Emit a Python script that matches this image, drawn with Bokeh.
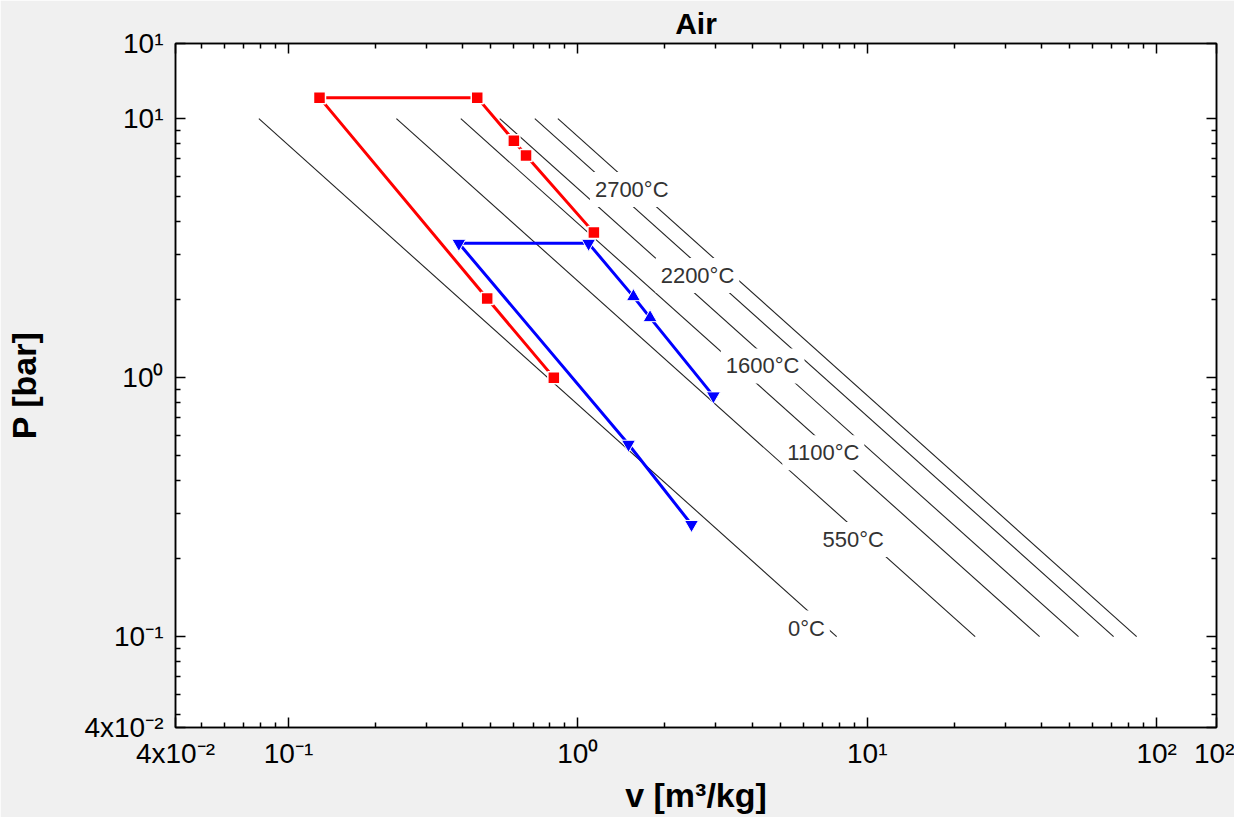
from bokeh.plotting import figure
from bokeh.models import (Range1d, FixedTicker, LogAxis, Label, ColumnDataSource,
                          CustomJSTickFormatter, CustomLabelingPolicy)
from bokeh.embed import file_html
from bokeh.resources import INLINE

# ---------------- data ----------------
# Isotherms of air: specific volume at the 10 bar end and at the 0.1 bar end
iso_names = ["0°C", "550°C", "1100°C", "1600°C", "2200°C", "2700°C"]
iso_p_top = [10, 10, 10, 10, 10, 10]
iso_v_top = [0.079, 0.236, 0.394, 0.537, 0.710, 0.853]
iso_p_bot = [0.1, 0.1, 0.1, 0.1, 0.1, 0.1]
iso_v_bot = [7.84, 23.6, 39.4, 53.7, 71.0, 85.3]
# where each isotherm carries its label
iso_label_v = [6.16, 8.95, 7.05, 4.35, 2.59, 1.535]
iso_label_p = [0.108, 0.237, 0.513, 1.11, 2.48, 5.32]

# red cycle (squares)
red_v = [0.826, 0.486, 0.128, 0.449, 0.601, 0.662, 1.136]
red_p = [1.00, 2.02, 12.05, 12.05, 8.22, 7.20, 3.63]

# blue cycle (triangles)
blue_v = [2.47, 1.496, 0.388, 1.089, 1.556, 1.776, 2.94]
blue_p = [0.271, 0.553, 3.30, 3.30, 2.055, 1.705, 0.85]
blue_markers = ["inverted_triangle", "inverted_triangle", "inverted_triangle",
                "inverted_triangle", "triangle", "triangle", "inverted_triangle"]

# axes
x_ticks = [0.0407, 0.1, 1, 10, 100, 161]
x_tick_labels = ["4x10⁻²", "10⁻¹", "10⁰", "10¹", "10²", "10²"]
x_minor = [0.05, 0.06, 0.07, 0.08, 0.09,
           0.2, 0.3, 0.4, 0.5, 0.6, 0.7, 0.8, 0.9,
           2, 3, 4, 5, 6, 7, 8, 9,
           20, 30, 40, 50, 60, 70, 80, 90]
y_ticks = [0.0446, 0.1, 1, 10, 19.5]
y_tick_labels = ["4x10⁻²", "10⁻¹", "10⁰", "10¹", "10¹"]
y_minor = [0.05, 0.06, 0.07, 0.08, 0.09,
           0.2, 0.3, 0.4, 0.5, 0.6, 0.7, 0.8, 0.9,
           2, 3, 4, 5, 6, 7, 8, 9]

FONT = "Liberation Sans"

p = figure(width=1234, height=817,
           x_axis_type="log", y_axis_type="log",
           x_range=Range1d(x_ticks[0], x_ticks[-1]),
           y_range=Range1d(y_ticks[0], y_ticks[-1]),
           output_backend="svg", toolbar_location=None,
           min_border_left=175, min_border_right=18,
           min_border_top=43, min_border_bottom=90,
           background_fill_color="white", border_fill_color="#f0f0f0")

p.title.text = "Air"
p.title.align = "center"
p.title.text_font = FONT
p.title.text_font_size = "30px"
p.title.text_font_style = "bold"
p.title.text_color = "black"
p.title.standoff = 0

p.xgrid.visible = False
p.ygrid.visible = False
p.outline_line_color = "black"
p.outline_line_width = 1.5

xt = FixedTicker(ticks=x_ticks, minor_ticks=x_minor)
yt = FixedTicker(ticks=y_ticks, minor_ticks=y_minor)
code = """
for (let i = 0; i < vals.length; i++) {
  if (Math.abs(vals[i] - tick) <= 1e-6 * Math.abs(vals[i])) return labs[i];
}
return "";
"""
xf = CustomJSTickFormatter(args=dict(vals=x_ticks, labs=x_tick_labels), code=code)
yf = CustomJSTickFormatter(args=dict(vals=y_ticks, labs=y_tick_labels), code=code)


def style(ax, ticker):
    ax.ticker = ticker
    ax.major_tick_in = 10
    ax.major_tick_out = 0
    ax.minor_tick_in = 5
    ax.minor_tick_out = 0
    ax.major_tick_line_color = "black"
    ax.minor_tick_line_color = "black"
    ax.major_tick_line_width = 1.5
    ax.minor_tick_line_width = 1.5
    ax.axis_line_color = "black"
    ax.axis_line_width = 1.5
    ax.major_label_text_font = FONT
    ax.major_label_text_font_size = "28px"
    ax.major_label_text_color = "black"
    ax.axis_label_text_font = FONT
    ax.axis_label_text_font_size = "34px"
    ax.axis_label_text_font_style = "bold"
    ax.axis_label_text_color = "black"


style(p.xaxis[0], xt)
p.xaxis[0].formatter = xf
p.xaxis[0].axis_label = "v [m³/kg]"
p.xaxis[0].major_label_standoff = 10
p.xaxis[0].axis_label_standoff = 4

style(p.yaxis[0], yt)
p.yaxis[0].formatter = yf
p.yaxis[0].axis_label = "P [bar]"
p.yaxis[0].major_label_standoff = 12
p.yaxis[0].axis_label_standoff = 38

# mirror axes (ticks only, no labels drawn)
no_labels = CustomLabelingPolicy(code="""
const all = [...indices];
for (const i of all) indices.unset(i);
return indices;
""")

top = LogAxis()
style(top, xt)
top.major_label_text_font_size = "1px"
top.major_label_standoff = 0
top.major_label_policy = no_labels
p.add_layout(top, "above")

right = LogAxis()
style(right, yt)
right.major_label_text_font_size = "1px"
right.major_label_standoff = 0
right.major_label_policy = no_labels
p.add_layout(right, "right")

# isotherms
p.multi_line(xs=[[a, b] for a, b in zip(iso_v_top, iso_v_bot)],
             ys=[[a, b] for a, b in zip(iso_p_top, iso_p_bot)],
             line_color="#222222", line_width=1.1)

for name, lv, lp in zip(iso_names, iso_label_v, iso_label_p):
    p.add_layout(Label(x=lv, y=lp, text=name, text_align="center",
                       text_baseline="middle", text_font=FONT,
                       text_font_size="22px", text_color="#333333",
                       background_fill_color="white", padding=5))

# red cycle
p.line(red_v, red_p, line_color="#ff0000", line_width=3)
p.scatter(red_v, red_p, marker="square", size=12, fill_color="#ff0000",
          line_color="white", line_width=1.5)

# blue cycle
p.line(blue_v, blue_p, line_color="#0000ff", line_width=3)
bsrc = ColumnDataSource(dict(v=blue_v, p=blue_p, m=blue_markers))
p.scatter("v", "p", source=bsrc, marker="m", size=14, fill_color="#0000ff",
          line_color="white", line_width=1)

open("out.html", "w").write(file_html(p, INLINE))
